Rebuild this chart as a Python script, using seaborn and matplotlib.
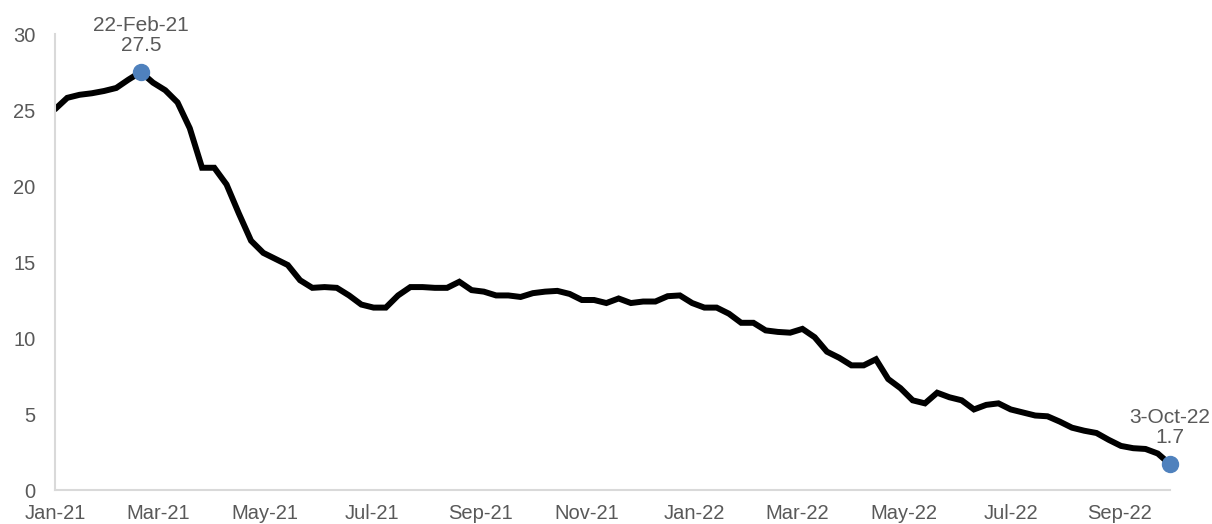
import numpy as np
import pandas as pd
import matplotlib
matplotlib.use("Agg")
import matplotlib.pyplot as plt
import matplotlib.dates as mdates
import seaborn as sns

start_date = "2021-01-04"
values = [
    25.05, 25.8, 26.0, 26.1, 26.25, 26.45, 27.0, 27.5, 26.8, 26.3,
    25.5, 23.8, 21.2, 21.2, 20.1, 18.2, 16.4, 15.6, 15.2, 14.8,
    13.8, 13.3, 13.35, 13.3, 12.8, 12.2, 12.0, 12.0, 12.8, 13.35,
    13.35, 13.3, 13.3, 13.7, 13.15, 13.05, 12.8, 12.8, 12.7, 12.95,
    13.05, 13.1, 12.9, 12.5, 12.5, 12.3, 12.6, 12.3, 12.4, 12.4,
    12.75, 12.8, 12.3, 12.0, 12.0, 11.6, 11.0, 11.0, 10.5, 10.4,
    10.35, 10.6, 10.05, 9.1, 8.7, 8.2, 8.2, 8.6, 7.3, 6.7,
    5.9, 5.7, 6.4, 6.1, 5.9, 5.3, 5.6, 5.7, 5.3, 5.1,
    4.9, 4.85, 4.5, 4.1, 3.9, 3.75, 3.3, 2.9, 2.75, 2.7,
    2.4, 1.7,
]
dates = pd.date_range(start_date, periods=len(values), freq="7D")
df = pd.DataFrame({"date": dates, "value": values})

peak_idx = 7
last_idx = len(values) - 1

# Excel-style date axis: ticks every 2 months, anchored at the first date (4th)
tick_dates = pd.date_range("2021-01-01", "2022-09-01", freq="2MS") + pd.Timedelta(days=3)

sns.set_theme(style="white")
plt.rcParams["font.family"] = ["Liberation Sans", "DejaVu Sans"]

grey_text = "#595959"
axis_grey = "#D9D9D9"
blue = "#4F81BD"

fig = plt.figure(figsize=(12.12, 5.24), dpi=100)
ax = fig.add_axes([55 / 1212, 1 - 490 / 524, (1170 - 55) / 1212, (490 - 34) / 524])

sns.lineplot(data=df, x="date", y="value", ax=ax, color="black", linewidth=4.3,
             solid_joinstyle="miter")

for idx in (peak_idx, last_idx):
    ax.plot(df["date"].iloc[idx], df["value"].iloc[idx], "o", color=blue,
            markersize=11.5, clip_on=False, zorder=5)
    label = f"{df['date'].iloc[idx].day}-{df['date'].iloc[idx].strftime('%b-%y')}\n{df['value'].iloc[idx]:.1f}"
    ax.annotate(label, (df["date"].iloc[idx], df["value"].iloc[idx]),
                xytext=(0, 12), textcoords="offset points", ha="center", va="bottom",
                fontsize=15, color=grey_text, linespacing=1.1, annotation_clip=False)

ax.set_xlim(dates[0], dates[-1])
ax.set_ylim(0, 30)
ax.set_yticks(np.arange(0, 31, 5))
ax.set_xticks(tick_dates)
ax.xaxis.set_major_formatter(mdates.DateFormatter("%b-%y"))

ax.set_xlabel("")
ax.set_ylabel("")
for side in ("top", "right"):
    ax.spines[side].set_visible(False)
for side in ("left", "bottom"):
    ax.spines[side].set_color(axis_grey)
    ax.spines[side].set_linewidth(1.5)

ax.tick_params(axis="both", which="major", direction="out", length=6, width=1.2,
               color=axis_grey, labelcolor=grey_text, labelsize=14.5, pad=4)
ax.tick_params(axis="y", pad=8)
ax.grid(False)

fig.savefig("out.png", dpi=100)
